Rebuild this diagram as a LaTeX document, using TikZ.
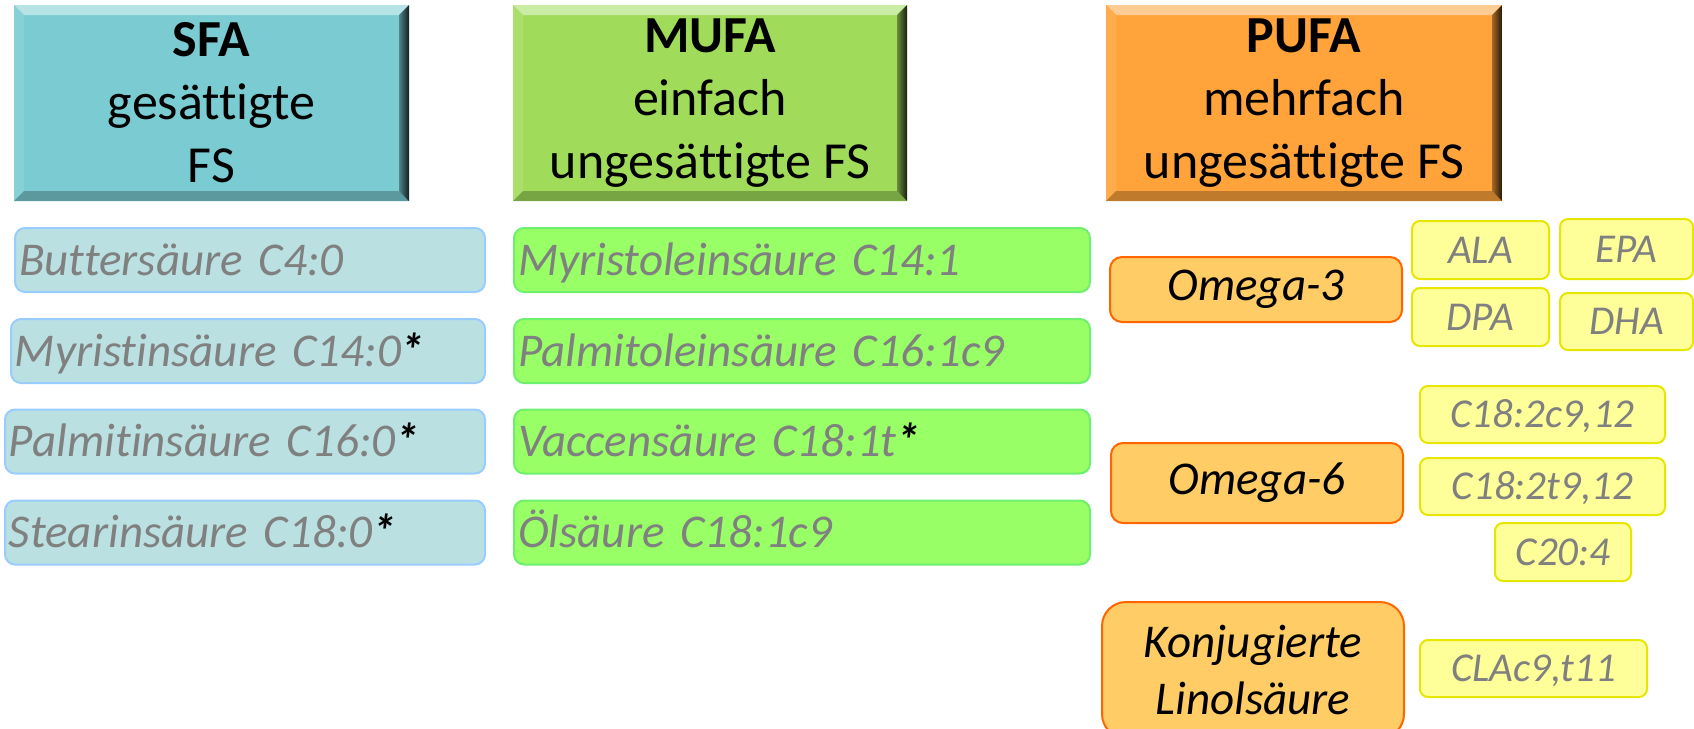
\documentclass[tikz,border=0pt]{standalone}
\usepackage{fontspec}
\setmainfont{Carlito}[Ligatures=NoCommon]
\definecolor{sfaback}{HTML}{7ACCD2}
\definecolor{mufaback}{HTML}{A0DC5A}
\definecolor{pufaback}{HTML}{FFA33A}
\definecolor{sfafill}{HTML}{BAE0E2}
\definecolor{sfaline}{HTML}{99CCFF}
\definecolor{mufafill}{HTML}{99FF66}
\definecolor{mufaline}{HTML}{6EF06E}
\definecolor{omfill}{HTML}{FFCC66}
\definecolor{omline}{HTML}{FF6600}
\definecolor{fafill}{HTML}{FFFF99}
\definecolor{faline}{HTML}{E6E600}
\definecolor{txtgray}{HTML}{808080}
\newcommand\fnmark{\textcolor{black}{\bfseries*}}
\tikzset{
  header/.style={fill=#1, minimum height=98pt, inner sep=0pt, align=center,
    font=\fontsize{26}{31.5}\selectfont,
    path picture={
      \path (path picture bounding box.north west) coordinate (nw)
            (path picture bounding box.north east) coordinate (ne)
            (path picture bounding box.south east) coordinate (se)
            (path picture bounding box.south west) coordinate (sw);
      \fill[#1!55!white] (nw) -- (ne) -- ([shift={(-5pt,-5pt)}]ne) -- ([shift={(5pt,-5pt)}]nw) -- cycle;
      \fill[#1!90!white] (nw) -- (sw) -- ([shift={(5pt,5pt)}]sw) -- ([shift={(5pt,-5pt)}]nw) -- cycle;
      \fill[#1!75!black] (sw) -- (se) -- ([shift={(-5pt,5pt)}]se) -- ([shift={(5pt,5pt)}]sw) -- cycle;
      \shade[left color=#1!65!black, right color=#1!15!black] (se) -- (ne) -- ([shift={(-5pt,-5pt)}]ne) -- ([shift={(-5pt,5pt)}]se) -- cycle;
    }},
  acid/.style={rounded corners=5pt, line width=1pt, minimum height=32pt, inner xsep=2pt, inner ysep=0pt,
    anchor=west, align=left, text width=#1, text=txtgray, text height=19pt, text depth=4pt,
    font=\fontsize{23.5}{28}\selectfont\itshape},
  sfaitem/.style={acid=#1, draw=sfaline, fill=sfafill},
  mufaitem/.style={acid=#1, draw=mufaline, fill=mufafill},
  omega/.style={draw=omline, fill=omfill, line width=1pt, rounded corners=6pt, minimum width=146pt,
    inner sep=0pt, align=center, font=\fontsize{23.5}{28.5}\selectfont\itshape},
  fa/.style={draw=faline, fill=fafill, line width=1pt, rounded corners=4pt, inner sep=0pt,
    text=txtgray, text height=16.5pt, text depth=3.3pt, font=\fontsize{20.5}{24}\selectfont\itshape}
}
\begin{document}
\begin{tikzpicture}[x=0.5pt, y=-0.5pt]
\useasboundingbox (0,0) rectangle (1694,729);
\clip (0,0) rectangle (1694,729);

\node[header=sfaback, minimum width=197.5pt] (sfa) at (211.5,103) {\textbf{SFA}\\gesättigte\\FS};
\node[header=mufaback, minimum width=197pt] (mufa) at (710,103) {\textbf{MUFA}\\einfach\\ungesättigte FS};
\node[header=pufaback, minimum width=198pt] (pufa) at (1304,103) {\textbf{PUFA}\\mehrfach\\ungesättigte FS};

\node[sfaitem=231pt] (butter) at (14,260) {Buttersäure C4:0};
\node[sfaitem=233pt] (myristin) at (10,351) {Myristinsäure C14:0\fnmark};
\node[sfaitem=236pt] (palmitin) at (4,441.5) {Palmitinsäure C16:0\fnmark};
\node[sfaitem=236pt] (stearin) at (4,532.5) {Stearinsäure C18:0\fnmark};

\node[mufaitem=284pt] (myristol) at (513,260) {Myristoleinsäure C14:1};
\node[mufaitem=284pt] (palmitol) at (513,351) {Palmitoleinsäure C16:1c9};
\node[mufaitem=284pt] (vaccen) at (513,441.5) {Vaccensäure C18:1t\fnmark};
\node[mufaitem=284pt] (oel) at (513,532.5) {Ölsäure C18:1c9};

\node[omega, minimum height=32.5pt] (om3) at (1256,289.5) {Omega-3};
\node[omega, minimum height=40pt] (om6) at (1257,483) {Omega-6};
\node[omega, minimum width=151pt, minimum height=68pt, rounded corners=12pt] (cla) at (1253,670) {Konjugierte\\Linolsäure};

\node[fa, minimum width=68.5pt, minimum height=29pt] (ala) at (1480.5,250) {ALA};
\node[fa, minimum width=66.5pt, minimum height=30pt] (epa) at (1626.5,249) {EPA};
\node[fa, minimum width=68.5pt, minimum height=29pt] (dpa) at (1480.5,317) {DPA};
\node[fa, minimum width=66.5pt, minimum height=28.5pt] (dha) at (1626.5,321.5) {DHA};
\node[fa, minimum width=122.5pt, minimum height=28.5pt] (la) at (1542.5,414.5) {C18:2c9,12};
\node[fa, minimum width=122.5pt, minimum height=28.5pt] (lat) at (1542.5,486.5) {C18:2t9,12};
\node[fa, minimum width=68pt, minimum height=29pt] (ara) at (1563,552) {C20:4};
\node[fa, minimum width=113.5pt, minimum height=28.5pt] (clac) at (1533.5,668.5) {CLAc9,t11};
\end{tikzpicture}
\end{document}
